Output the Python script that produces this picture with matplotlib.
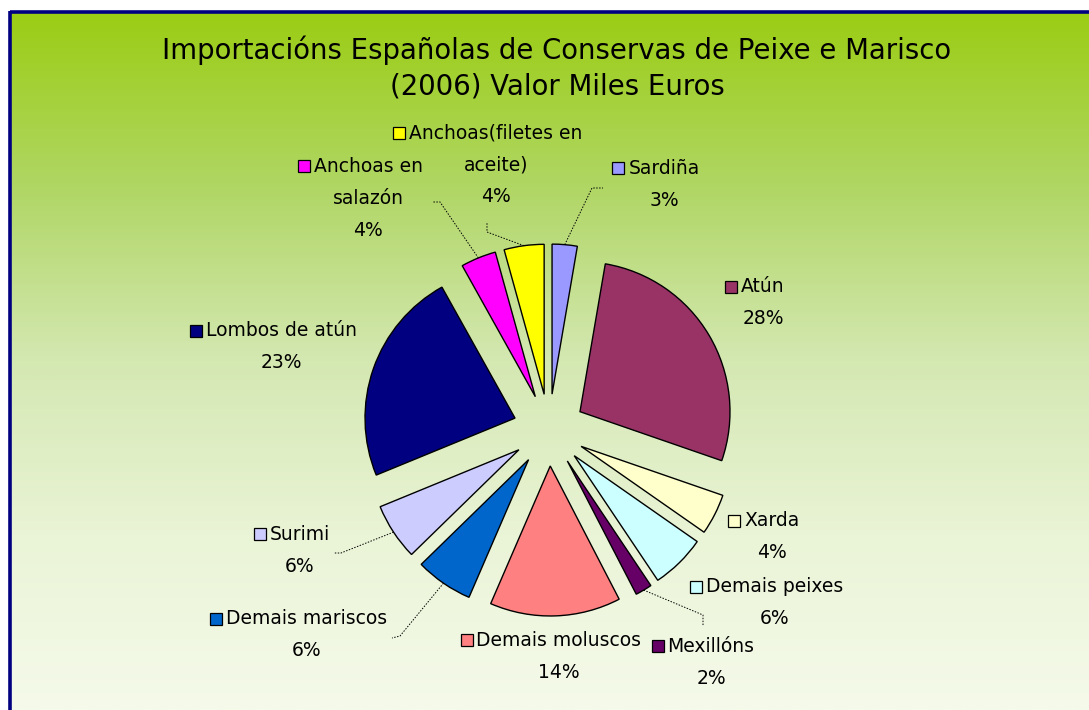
import numpy as np
import matplotlib
matplotlib.use('Agg')
from matplotlib import pyplot as plt
from matplotlib.patches import Rectangle

# data (clockwise from 12 o'clock)
categories = ["Sardiña", "Atún", "Xarda", "Demais peixes", "Mexillóns",
              "Demais moluscos", "Demais mariscos", "Surimi", "Lombos de atún",
              "Anchoas en\nsalazón", "Anchoas(filetes en\naceite)"]
values = [2.7, 27.6, 4.4, 5.9, 1.8, 14.1, 6.2, 6.1, 23.1, 3.8, 4.3]
colors = ["#9999FF", "#993366", "#FFFFCC", "#CCFFFF", "#660066", "#FF8080",
          "#0066CC", "#CCCCFF", "#000080", "#FF00FF", "#FFFF00"]
title = "Importacións Españolas de Conservas de Peixe e Marisco\n(2006) Valor Miles Euros"

W, H = 1089, 710
CX, CY, R = 549, 430, 150   # pie centre / radius in pixels
explode = 0.24
FONT = 'DejaVu Sans'

# label layout: text centre x, first line y (pixels)
label_pos = [(664, 168), (763, 287), (772, 521), (775, 587), (711, 646),
             (559, 640), (307, 619), (300, 534), (281, 331), (368, 166),
             (496, 133)]
line_gap = 32
# leader line elbows, wedge -> label
leaders = {0: [(592, 188), (603, 188)],
           4: [(703, 615), (703, 626)],
           6: [(400, 636), (392, 638)],
           7: [(341, 553), (334, 553)],
           9: [(440, 202), (432, 202)],
           10: [(487, 232), (487, 223)]}


def px(x, y):
    return ((x - CX) / R, (CY - y) / R)


fig = plt.figure(figsize=(W / 100, H / 100), dpi=100)
fig.patch.set_facecolor('white')

# background gradient + border
bg = fig.add_axes([0, 0, 1, 1])
stops = np.array([0, 0.25, 0.5, 0.75, 1.0])
cols = np.array([[155, 205, 20], [176, 214, 100], [212, 232, 178],
                 [234, 244, 214], [245, 250, 234]]) / 255.0
t = np.linspace(0, 1, 400)
grad = np.stack([np.interp(t, stops, cols[:, k]) for k in range(3)], axis=1)
bg.imshow(grad[:, None, :], extent=[10, W, H, 12], aspect='auto', interpolation='bilinear')
bg.plot([9.5, W], [12, 12], color='#000080', lw=2.6, solid_capstyle='butt')
bg.plot([9.5, 9.5], [10.5, H], color='#000080', lw=2.6, solid_capstyle='butt')
bg.set_xlim(0, W)
bg.set_ylim(H, 0)
bg.axis('off')

# pie
ax = fig.add_axes([0, 0, 1, 1])
ax.pie(values, colors=colors, explode=[explode] * len(values), startangle=90,
       counterclock=False, radius=1,
       wedgeprops=dict(edgecolor='black', linewidth=1.0))
ax.set_xlim((0 - CX) / R, (W - CX) / R)
ax.set_ylim((CY - H) / R, CY / R)
ax.axis('off')

ax.text(*px(557, 68), title, ha='center', va='center', fontsize=19.8,
        family=FONT, linespacing=1.3)

total = sum(values)
first_lines = []
for i, name in enumerate(categories):
    cx, y = label_pos[i]
    pct = "{:.0f}%".format(round(values[i] / total * 100))
    lines = name.split('\n') + [pct]
    for j, ln in enumerate(lines):
        tt = ax.text(*px(cx, y + j * line_gap), ln, ha='center', va='center',
                     fontsize=13.5, family=FONT, color='black')
        if j == 0:
            first_lines.append(tt)

# leader lines from wedge edge
cum = np.cumsum([0] + values[:-1])
for i, pts in leaders.items():
    mid = np.deg2rad(90 - 360 * (cum[i] + values[i] / 2) / total)
    sx, sy = (1 + explode) * np.cos(mid), (1 + explode) * np.sin(mid)
    xs = [sx] + [px(*p)[0] for p in pts]
    ys = [sy] + [px(*p)[1] for p in pts]
    ax.plot(xs, ys, color='black', lw=0.7, ls=(0, (1.5, 1.5)))

# legend keys to the left of each first label line
fig.canvas.draw()
inv = ax.transData.inverted()
for i, tt in enumerate(first_lines):
    ext = tt.get_window_extent()
    ymid = (ext.y0 + ext.y1) / 2
    x0, y0 = inv.transform((ext.x0 - 16, ymid - 6))
    x1, y1 = inv.transform((ext.x0 - 4, ymid + 6))
    ax.add_patch(Rectangle((x0, y0), x1 - x0, y1 - y0, facecolor=colors[i],
                           edgecolor='black', lw=0.9, zorder=5))

fig.savefig('out.png', dpi=100)
